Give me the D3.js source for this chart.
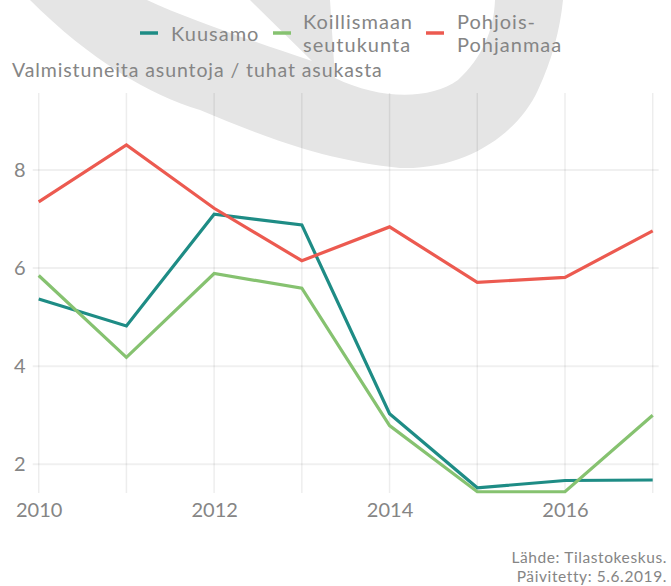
<!DOCTYPE html>
<html><head><meta charset="utf-8">
<script src="https://cdn.jsdelivr.net/npm/d3@7"></script>
<style>html,body{margin:0;padding:0;background:#fff;}svg{display:block;}</style>
</head><body>
<svg id="chart" width="671" height="586"></svg>
<script>
const years = [2010, 2011, 2012, 2013, 2014, 2015, 2016, 2017];
const kuusamo = [5.37, 4.82, 7.10, 6.88, 3.03, 1.52, 1.67, 1.68];
const koillismaa = [5.85, 4.18, 5.89, 5.59, 2.79, 1.44, 1.44, 3.00];
const pohjois = [7.35, 8.51, 7.22, 6.15, 6.84, 5.71, 5.81, 6.76];
const seriesNames = ["Kuusamo", "Koillismaan\nseutukunta", "Pohjois-\nPohjanmaa"];
const seriesColors = ["#1e8c85", "#86c270", "#ec5a50"];
const xTicks = [2010, 2012, 2014, 2016];
const yTicks = [2, 4, 6, 8];
const yTitle = "Valmistuneita asuntoja / tuhat asukasta";
const caption = ["Lähde: Tilastokeskus.", "Päivitetty: 5.6.2019."];

const svg = d3.select("#chart");
const font = "Lato, 'Open Sans', sans-serif";
const textColor = "#858585";

// watermark
svg.append("path")
  .attr("d", "M30,0 C90,60 150,95 200,110 C260,135 320,160 400,168 C470,170 520,130 538,90 C552,60 560,30 563,0 L495,0 C494,30 482,58 458,80 C430,100 380,100 335,78 L330,0 L250,0 L312,61 C250,40 190,20 147,0 Z")
  .attr("fill", "#e5e5e5");

const x = d3.scaleLinear().domain([2010, 2017]).range([38.7, 652.7]);
const y = d3.scaleLinear().domain([2, 8]).range([464.3, 170]);
const pad = 6;
const yTop = 93, yBottom = 493;

const grid = svg.append("g");
grid.selectAll("line.v").data(years).enter().append("line")
  .attr("x1", d => x(d)).attr("x2", d => x(d))
  .attr("y1", yTop).attr("y2", yBottom)
  .attr("stroke", "#000").attr("stroke-opacity", 0.07).attr("stroke-width", 1.5);
grid.selectAll("line.h").data(yTicks).enter().append("line")
  .attr("x1", x.range()[0] - pad).attr("x2", x.range()[1] + pad)
  .attr("y1", d => y(d)).attr("y2", d => y(d))
  .attr("stroke", "#000").attr("stroke-opacity", 0.06).attr("stroke-width", 2);

// axes
const xAxis = svg.append("g").attr("transform", `translate(0,${yBottom})`)
  .call(d3.axisBottom(x).tickValues(xTicks).tickFormat(d3.format("d")).tickSize(0).tickPadding(10));
const yAxis = svg.append("g").attr("transform", `translate(${x.range()[0] - pad},0)`)
  .call(d3.axisLeft(y).tickValues(yTicks).tickFormat(d3.format("d")).tickSize(0).tickPadding(7));
[xAxis, yAxis].forEach(a => {
  a.select(".domain").remove();
  a.selectAll("text").attr("fill", textColor).attr("font-family", font).attr("font-size", 20);
});
xAxis.selectAll("text").attr("dy", "0.71em");

// lines
const data = [kuusamo, koillismaa, pohjois];
const line = d3.line().x((d, i) => x(years[i])).y(d => y(d));
svg.selectAll("path.series").data(data).enter().append("path")
  .attr("class", "series")
  .attr("d", d => line(d))
  .attr("fill", "none")
  .attr("stroke", (d, i) => seriesColors[i])
  .attr("stroke-width", 3.2)
  .attr("stroke-linejoin", "miter");

// y title
svg.append("text").attr("x", 12).attr("y", 77)
  .attr("fill", textColor).attr("font-family", font).attr("font-size", 19.5)
  .attr("letter-spacing", 0.9)
  .text(yTitle);

// legend
const legendKeys = [140, 273, 426];
const legendTexts = [171, 303, 457];
const lg = svg.append("g");
seriesNames.forEach((name, i) => {
  lg.append("line").attr("x1", legendKeys[i]).attr("x2", legendKeys[i] + 18)
    .attr("y1", 33).attr("y2", 33)
    .attr("stroke", seriesColors[i]).attr("stroke-width", 3.5);
  const lines = name.split("\n");
  const t = lg.append("text").attr("fill", textColor).attr("font-family", font).attr("font-size", 20)
    .attr("letter-spacing", 1);
  if (lines.length === 1) {
    t.append("tspan").attr("x", legendTexts[i]).attr("y", 41).text(lines[0]);
  } else {
    lines.forEach((l, j) => t.append("tspan").attr("x", legendTexts[i]).attr("y", 29 + j * 23).text(l));
  }
});

// caption
caption.forEach((c, i) => {
  svg.append("text").attr("x", 667).attr("y", 563 + i * 19)
    .attr("text-anchor", "end")
    .attr("fill", textColor).attr("font-family", font).attr("font-size", 15.5)
    .attr("letter-spacing", 0.6)
    .text(c);
});
</script>
</body></html>
